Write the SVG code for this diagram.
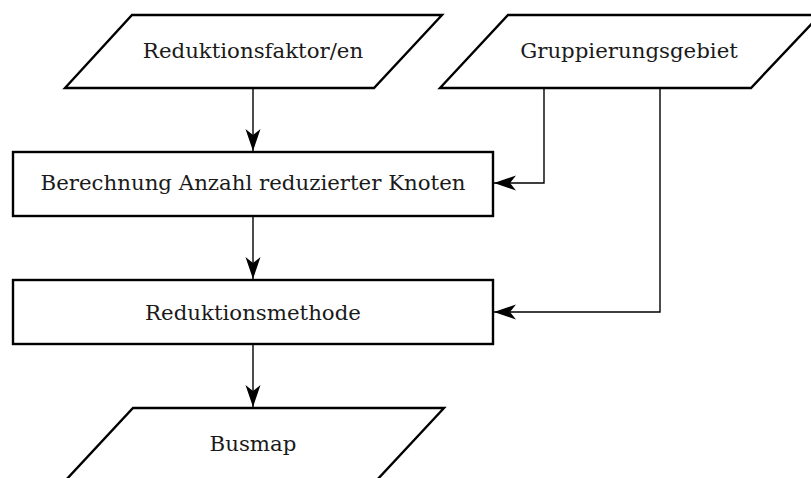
<svg xmlns="http://www.w3.org/2000/svg" width="811" height="478" viewBox="0 0 811 478">
  <style>
    .shape { fill: #ffffff; stroke: #000000; stroke-width: 2.4; stroke-linejoin: miter; }
    .label { font-family: "DejaVu Serif", "Liberation Serif", serif; font-size: 21.3px; fill: #1a1a1a; text-anchor: middle; }
    .edge { fill: none; stroke: #000000; stroke-width: 1.4; }
  </style>
  <defs>
    <marker id="arrow" markerUnits="userSpaceOnUse" viewBox="-24 -9 25 18" refX="0" refY="0" markerWidth="25" markerHeight="18" orient="auto">
      <path d="M0,0 L-22,-7.5 L-16,0 L-22,7.5 Z" fill="#000000"/>
    </marker>
  </defs>
  <rect width="811" height="478" fill="#ffffff"/>

  <g id="connectors">
    <path class="edge" d="M253,88 V151" marker-end="url(#arrow)"/>
    <path class="edge" d="M253,216 V279" marker-end="url(#arrow)"/>
    <path class="edge" d="M253,344 V407" marker-end="url(#arrow)"/>
    <path class="edge" d="M544,88 V183 H494" marker-end="url(#arrow)"/>
    <path class="edge" d="M660,88 V312 H494" marker-end="url(#arrow)"/>
  </g>

  <g id="reduktionsfaktoren">
    <polygon class="shape" points="132,15 442,15 374,88 65,88"/>
    <text class="label" x="253" y="58">Reduktionsfaktor/en</text>
  </g>

  <g id="gruppierungsgebiet">
    <polygon class="shape" points="508,15 820,15 751,88 440,88"/>
    <text class="label" x="629" y="58">Gruppierungsgebiet</text>
  </g>

  <g id="berechnung">
    <rect class="shape" x="13" y="152" width="480" height="64"/>
    <text class="label" x="253" y="190">Berechnung Anzahl reduzierter Knoten</text>
  </g>

  <g id="reduktionsmethode">
    <rect class="shape" x="13" y="280" width="480" height="64"/>
    <text class="label" x="253" y="320">Reduktionsmethode</text>
  </g>

  <g id="busmap">
    <polygon class="shape" points="133,408 444,408 376,481 65,481"/>
    <text class="label" x="253" y="451">Busmap</text>
  </g>
</svg>
